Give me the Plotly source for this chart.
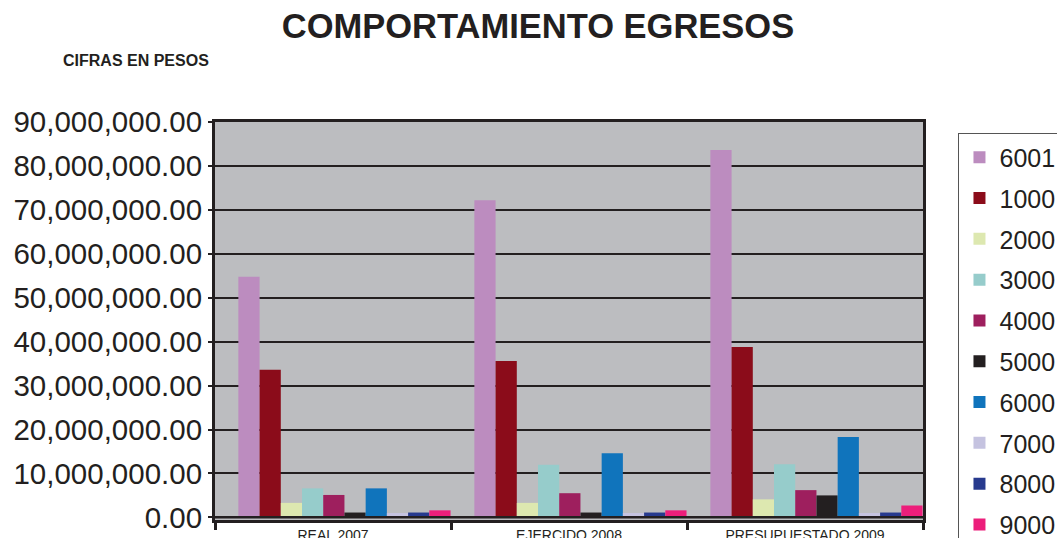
import plotly.graph_objects as go

# Periods on the category axis
categorias = ["REAL 2007", "EJERCIDO 2008", "PRESUPUESTADO 2009"]

# Spending per budget chapter (pesos), one list per period order above
cap_6001 = [54_800_000, 72_200_000, 83_600_000]
cap_1000 = [33_600_000, 35_600_000, 38_800_000]
cap_2000 = [3_300_000, 3_300_000, 4_100_000]
cap_3000 = [6_600_000, 12_000_000, 12_100_000]
cap_4000 = [5_100_000, 5_500_000, 6_200_000]
cap_5000 = [1_100_000, 1_100_000, 5_000_000]
cap_6000 = [6_600_000, 14_600_000, 18_300_000]
cap_7000 = [1_000_000, 1_000_000, 1_000_000]
cap_8000 = [1_100_000, 1_100_000, 1_100_000]
cap_9000 = [1_600_000, 1_600_000, 2_700_000]

series = [
    ("6001", cap_6001, "#bc8cbf"),
    ("1000", cap_1000, "#8b0c1a"),
    ("2000", cap_2000, "#dde8b0"),
    ("3000", cap_3000, "#96cccb"),
    ("4000", cap_4000, "#9e1f5e"),
    ("5000", cap_5000, "#231f20"),
    ("6000", cap_6000, "#1074bc"),
    ("7000", cap_7000, "#c5c3e0"),
    ("8000", cap_8000, "#273a8e"),
    ("9000", cap_9000, "#ec1e7b"),
]

INK = "#231f20"
FONT = "Liberation Sans"

bar_w = 0.0899
first_offset = -0.401

fig = go.Figure()
for i, (name, vals, color) in enumerate(series):
    fig.add_trace(go.Bar(
        x=categorias, y=vals, name=name,
        marker=dict(color=color, line=dict(width=0)),
        width=bar_w, offset=first_offset + i * bar_w,
        legendgroup=name,
    ))

fig.update_layout(
    width=1057, height=538,
    margin=dict(l=215, r=134, t=122, b=18, autoexpand=False),
    paper_bgcolor="white",
    plot_bgcolor="#bcbdc0",
    barmode="group",
    showlegend=True,
    font=dict(family=FONT, color=INK),
    title=dict(
        text="<b>COMPORTAMIENTO EGRESOS</b>",
        font=dict(family=FONT, size=34.5, color=INK),
        x=0.509, xanchor="center", y=0.952, yanchor="middle",
    ),
    legend=dict(
        x=1.0494, xanchor="left", y=0.9724, yanchor="top",
        bgcolor="white", bordercolor="#555555", borderwidth=1.5,
        font=dict(family=FONT, size=25, color=INK),
        tracegroupgap=5.3,
        itemwidth=30,
    ),
    xaxis=dict(
        type="category",
        showgrid=False,
        showline=True, linecolor=INK, linewidth=2.5, mirror=True,
        ticks="outside", tickson="boundaries", ticklen=7,
        tickwidth=2.5, tickcolor=INK,
        tickfont=dict(family=FONT, size=14, color=INK),
        range=[-0.5, 2.5],
        fixedrange=True,
    ),
    yaxis=dict(
        range=[-600_000, 90_000_000],
        tickvals=[i * 10_000_000 for i in range(10)],
        tickformat=",.2f",
        showgrid=True, gridcolor=INK, gridwidth=2,
        zeroline=False,
        showline=True, linecolor=INK, linewidth=3, mirror=True,
        ticks="outside", ticklen=4, tickwidth=2, tickcolor=INK,
        tickfont=dict(family=FONT, size=29.5, color=INK),
        fixedrange=True,
    ),
    shapes=[
        dict(type="line", xref="paper", yref="y", x0=0, x1=1, y0=0, y1=0,
             line=dict(color=INK, width=2.5), layer="above"),
    ],
    annotations=[
        dict(text="<b>CIFRAS EN PESOS</b>", xref="paper", yref="paper",
             x=-0.2175, xanchor="left", y=1.155, yanchor="middle",
             showarrow=False, font=dict(family=FONT, size=16, color=INK)),
    ],
)

# Let the legend run past the bottom edge instead of scrolling
try:
    fig.update_layout(legend_maxheight=1000)
except ValueError:
    pass

fig.write_html("out.html")
